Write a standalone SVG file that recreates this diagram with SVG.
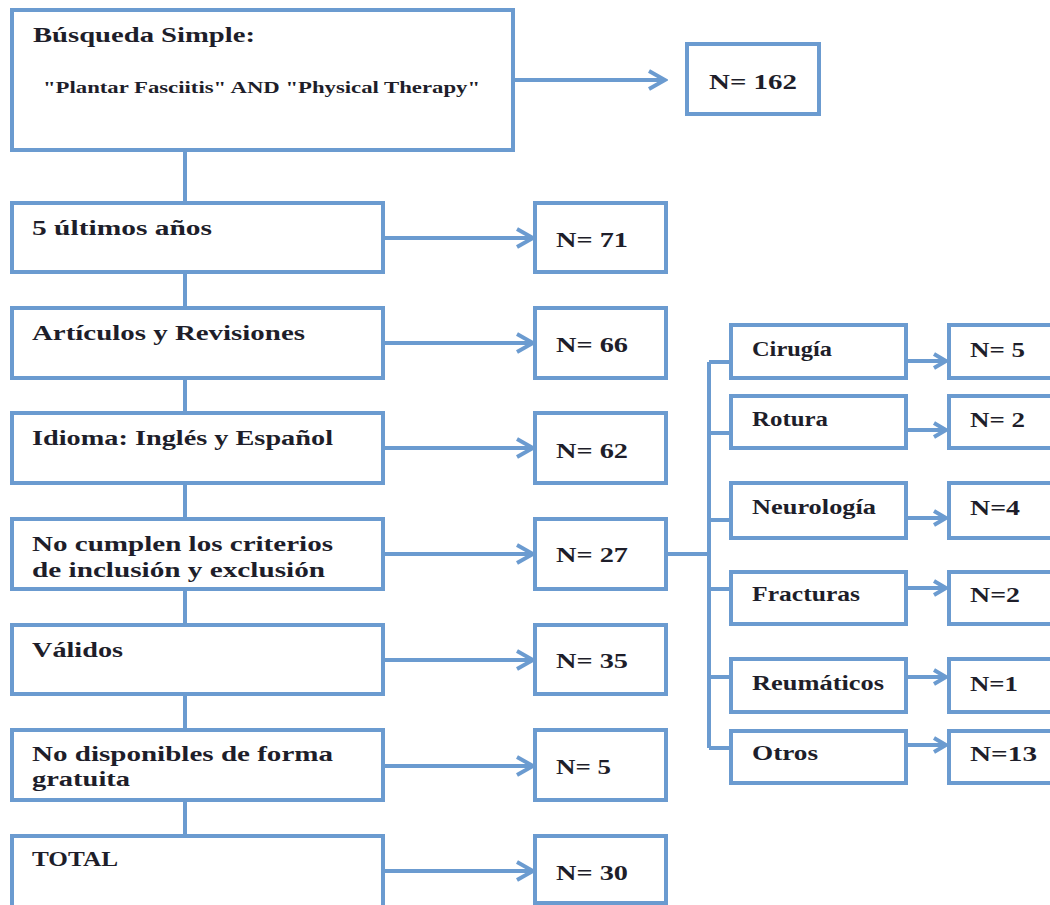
<svg xmlns="http://www.w3.org/2000/svg" width="1050" height="905" viewBox="0 0 1050 905">
<defs>
<style>
.box{fill:#fff;stroke:#6b9bd0;stroke-width:4}
.ln{fill:none;stroke:#6b9bd0;stroke-width:4}
.t{font-family:"Liberation Serif","Times New Roman",serif;font-size:20px;font-weight:bold;fill:#1e1e2a}
.s{font-size:16px}
</style>
<marker id="arr" viewBox="0 0 22 24" refX="19" refY="12" markerWidth="22" markerHeight="24" markerUnits="userSpaceOnUse" orient="auto">
<path d="M3,3 L19,12 L3,21" fill="none" stroke="#6b9bd0" stroke-width="4"/>
</marker>
<marker id="arrs" viewBox="0 0 18 20" refX="15" refY="10" markerWidth="18" markerHeight="20" markerUnits="userSpaceOnUse" orient="auto">
<path d="M3,3 L15,10 L3,17" fill="none" stroke="#6b9bd0" stroke-width="4"/>
</marker>
</defs>
<rect width="1050" height="905" fill="#fff"/>
<g id="connectors">
<line class="ln" x1="185" y1="150" x2="185" y2="836"/>
<line class="ln" x1="513" y1="80" x2="665" y2="80" marker-end="url(#arr)"/>
<line class="ln" x1="383" y1="238" x2="533" y2="238" marker-end="url(#arr)"/>
<line class="ln" x1="383" y1="343" x2="533" y2="343" marker-end="url(#arr)"/>
<line class="ln" x1="383" y1="448" x2="533" y2="448" marker-end="url(#arr)"/>
<line class="ln" x1="383" y1="554" x2="533" y2="554" marker-end="url(#arr)"/>
<line class="ln" x1="383" y1="660" x2="533" y2="660" marker-end="url(#arr)"/>
<line class="ln" x1="383" y1="766" x2="533" y2="766" marker-end="url(#arr)"/>
<line class="ln" x1="383" y1="871" x2="533" y2="871" marker-end="url(#arr)"/>
<path class="ln" d="M666,554 H709 M709,362 V748 M709,362 H730 M709,433 H730 M709,520 H730 M709,589 H730 M709,677 H730 M709,748 H730"/>
<line class="ln" x1="906" y1="361" x2="946" y2="361" marker-end="url(#arrs)"/>
<line class="ln" x1="906" y1="430" x2="946" y2="430" marker-end="url(#arrs)"/>
<line class="ln" x1="906" y1="518" x2="946" y2="518" marker-end="url(#arrs)"/>
<line class="ln" x1="906" y1="588" x2="946" y2="588" marker-end="url(#arrs)"/>
<line class="ln" x1="906" y1="677" x2="946" y2="677" marker-end="url(#arrs)"/>
<line class="ln" x1="906" y1="745" x2="946" y2="745" marker-end="url(#arrs)"/>
</g>
<g id="n-busqueda"><rect class="box" x="12" y="10" width="501" height="140"/>
<text class="t" x="33" y="42" font-size="21" textLength="222" lengthAdjust="spacingAndGlyphs">Búsqueda Simple:</text>
<text class="t s" x="43" y="93" textLength="437" lengthAdjust="spacingAndGlyphs">"Plantar Fasciitis" AND "Physical Therapy"</text></g>
<g id="n-162"><rect class="box" x="687" y="44" width="132" height="70"/><text class="t" x="709" y="89" textLength="88" lengthAdjust="spacingAndGlyphs">N= 162</text></g>

<g id="n-anos"><rect class="box" x="12" y="203" width="371" height="69"/><text class="t" x="32" y="235" textLength="180" lengthAdjust="spacingAndGlyphs">5 últimos años</text></g>
<g id="n-71"><rect class="box" x="535" y="203" width="131" height="69"/><text class="t" x="556" y="247" textLength="72" lengthAdjust="spacingAndGlyphs">N= 71</text></g>

<g id="n-articulos"><rect class="box" x="12" y="308" width="371" height="70"/><text class="t" x="32" y="340" textLength="273" lengthAdjust="spacingAndGlyphs">Artículos y Revisiones</text></g>
<g id="n-66"><rect class="box" x="535" y="308" width="131" height="70"/><text class="t" x="556" y="352" textLength="72" lengthAdjust="spacingAndGlyphs">N= 66</text></g>

<g id="n-idioma"><rect class="box" x="12" y="413" width="371" height="70"/><text class="t" x="32" y="445" textLength="301" lengthAdjust="spacingAndGlyphs">Idioma: Inglés y Español</text></g>
<g id="n-62"><rect class="box" x="535" y="413" width="131" height="70"/><text class="t" x="556" y="458" textLength="72" lengthAdjust="spacingAndGlyphs">N= 62</text></g>

<g id="n-nocumplen"><rect class="box" x="12" y="519" width="371" height="70"/><text class="t" x="32" y="551" textLength="301" lengthAdjust="spacingAndGlyphs">No cumplen los criterios</text><text class="t" x="32" y="577" textLength="293" lengthAdjust="spacingAndGlyphs">de inclusión y exclusión</text></g>
<g id="n-27"><rect class="box" x="535" y="519" width="131" height="70"/><text class="t" x="556" y="562" textLength="72" lengthAdjust="spacingAndGlyphs">N= 27</text></g>

<g id="n-validos"><rect class="box" x="12" y="625" width="371" height="69"/><text class="t" x="32" y="657" textLength="91" lengthAdjust="spacingAndGlyphs">Válidos</text></g>
<g id="n-35"><rect class="box" x="535" y="625" width="131" height="69"/><text class="t" x="556" y="668" textLength="72" lengthAdjust="spacingAndGlyphs">N= 35</text></g>

<g id="n-nodisp"><rect class="box" x="12" y="730" width="371" height="70"/><text class="t" x="32" y="761" textLength="301" lengthAdjust="spacingAndGlyphs">No disponibles de forma</text><text class="t" x="32" y="786" textLength="98" lengthAdjust="spacingAndGlyphs">gratuita</text></g>
<g id="n-5"><rect class="box" x="535" y="730" width="131" height="70"/><text class="t" x="556" y="774" textLength="55" lengthAdjust="spacingAndGlyphs">N= 5</text></g>

<g id="n-total"><rect class="box" x="12" y="836" width="371" height="72"/><text class="t" x="32" y="866" textLength="86" lengthAdjust="spacingAndGlyphs">TOTAL</text></g>
<g id="n-30"><rect class="box" x="535" y="836" width="131" height="67"/><text class="t" x="556" y="880" textLength="72" lengthAdjust="spacingAndGlyphs">N= 30</text></g>

<g id="n-cirugia"><rect class="box" x="731" y="325" width="175" height="53"/><text class="t" x="752" y="356" textLength="80" lengthAdjust="spacingAndGlyphs">Cirugía</text></g>
<g id="n-c5"><rect class="box" x="949" y="325" width="110" height="53"/><text class="t" x="970" y="357" textLength="55" lengthAdjust="spacingAndGlyphs">N= 5</text></g>
<g id="n-rotura"><rect class="box" x="731" y="396" width="175" height="52"/><text class="t" x="752" y="426" textLength="76" lengthAdjust="spacingAndGlyphs">Rotura</text></g>
<g id="n-r2"><rect class="box" x="949" y="396" width="110" height="52"/><text class="t" x="970" y="427" textLength="55" lengthAdjust="spacingAndGlyphs">N= 2</text></g>
<g id="n-neuro"><rect class="box" x="731" y="483" width="175" height="55"/><text class="t" x="752" y="514" textLength="124" lengthAdjust="spacingAndGlyphs">Neurología</text></g>
<g id="n-n4"><rect class="box" x="949" y="483" width="110" height="55"/><text class="t" x="970" y="515" textLength="50" lengthAdjust="spacingAndGlyphs">N=4</text></g>
<g id="n-fract"><rect class="box" x="731" y="572" width="175" height="52"/><text class="t" x="752" y="601" textLength="108" lengthAdjust="spacingAndGlyphs">Fracturas</text></g>
<g id="n-f2"><rect class="box" x="949" y="572" width="110" height="52"/><text class="t" x="970" y="602" textLength="50" lengthAdjust="spacingAndGlyphs">N=2</text></g>
<g id="n-reuma"><rect class="box" x="731" y="659" width="175" height="53"/><text class="t" x="752" y="690" textLength="132" lengthAdjust="spacingAndGlyphs">Reumáticos</text></g>
<g id="n-re1"><rect class="box" x="949" y="659" width="110" height="53"/><text class="t" x="970" y="691" textLength="48" lengthAdjust="spacingAndGlyphs">N=1</text></g>
<g id="n-otros"><rect class="box" x="731" y="731" width="175" height="52"/><text class="t" x="752" y="760" textLength="66" lengthAdjust="spacingAndGlyphs">Otros</text></g>
<g id="n-o13"><rect class="box" x="949" y="731" width="110" height="52"/><text class="t" x="970" y="761" textLength="67" lengthAdjust="spacingAndGlyphs">N=13</text></g>
</svg>
